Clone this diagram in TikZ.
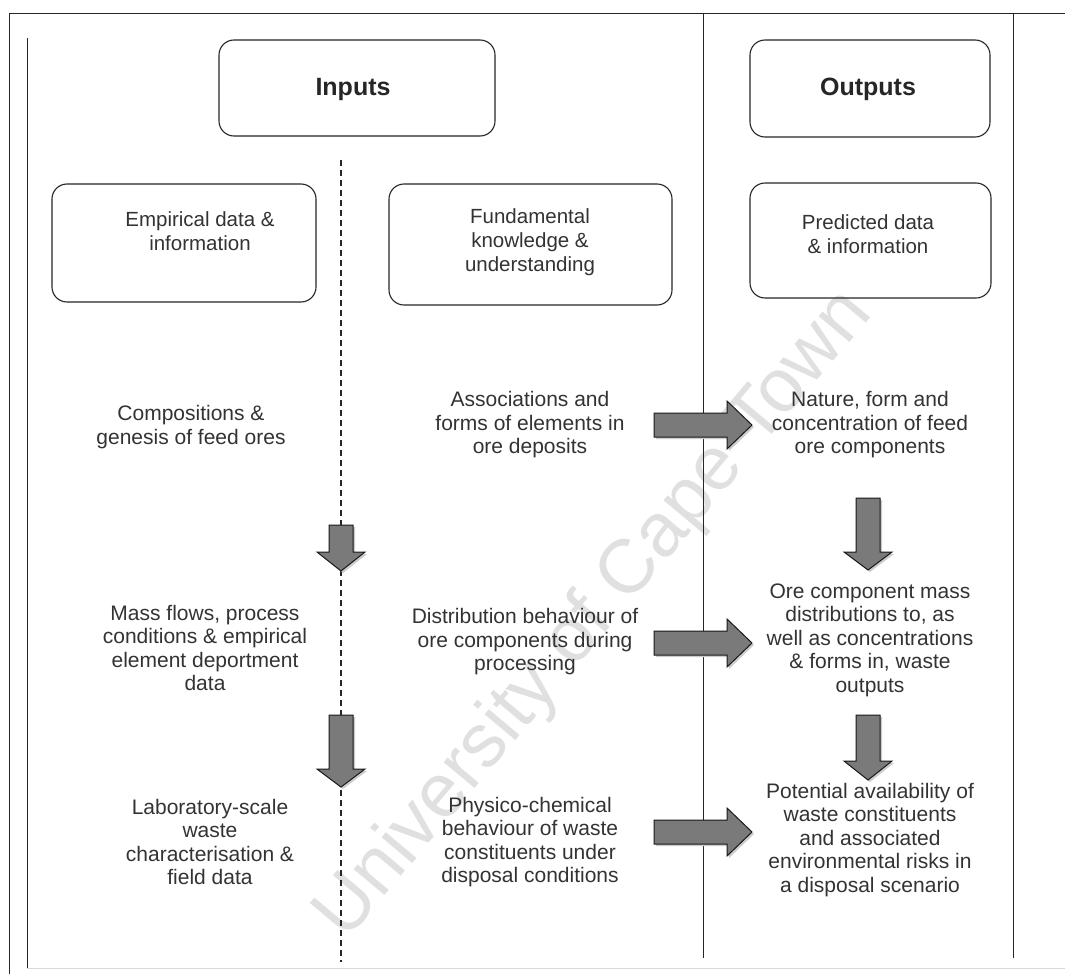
\documentclass[tikz,border=0pt]{standalone}
\usepackage{fontspec}
\setmainfont{Liberation Sans}
\usetikzlibrary{shadows}

\tikzset{
  x=1pt, y=-1pt,
  frameline/.style={line width=1pt, draw=black!85},
  roundbox/.style={draw=black!85, line width=1.1pt, rounded corners=15pt},
  headtext/.style={font=\fontsize{25}{29}\selectfont\bfseries, text=black!85},
  boxtext/.style={font=\fontsize{20.5}{24}\selectfont, align=center, text=black!80},
  bodytext/.style={font=\fontsize{21}{23.5}\selectfont, align=center, text=black!80},
  arrowbody/.style={draw=black!90, line width=1pt, fill=black!52,
    drop shadow={shadow xshift=2pt, shadow yshift=-2pt, fill=black!20, opacity=1}},
  divider/.style={dashed, dash pattern=on 6pt off 4pt, line width=1.3pt, draw=black!85},
  watermark/.style={font=\fontsize{76}{76}\selectfont, text=black!12}
}

% block arrow: #1 tail point, #2 direction angle, #3 total length, #4 head length
\newcommand{\blockarrow}[4]{%
  \begin{scope}[shift={#1}, rotate=#2]
    \draw[arrowbody] (0,-12) -- ({#3-#4},-12) -- ({#3-#4},-24) -- (#3,0)
      -- ({#3-#4},24) -- ({#3-#4},12) -- (0,12) -- cycle;
  \end{scope}}

\begin{document}
\begin{tikzpicture}
\useasboundingbox (0,0) rectangle (1065,974);
\fill[white] (0,0) rectangle (1065,974);

% watermark
\node[watermark, rotate=50] (wm) at (595,615) {University of Cape Town};

% frame and column rules
\coordinate (tl) at (9,14);
\coordinate (tr) at (1065,14);
\draw[frameline] (tr) -- (tl) -- (9,974);
\draw[frameline] (27,38) -- (27,968);
\draw[frameline] (703,14) -- (703,958);
\draw[frameline] (1013,14) -- (1013,958);
\draw[black!15, line width=0.8pt] (27,968) -- (1065,968);

% dashed divider between the two input columns
\coordinate (dtop) at (341,160);
\coordinate (dbot) at (341,962);
\draw[divider] (dtop) -- (dbot);

% heading boxes
\draw[roundbox] (219,40) rectangle (495,136);
\node[headtext] (inputs) at (353,89) {Inputs};
\draw[roundbox] (750,40) rectangle (990,137);
\node[headtext] (outputs) at (868,89) {Outputs};

% category boxes
\draw[roundbox] (52,184) rectangle (316,302);
\node[boxtext] (empirical) at (200,231) {Empirical data \&\\information};
\draw[roundbox] (389,184) rectangle (672,305);
\node[boxtext] (fundamental) at (530,242) {Fundamental\\knowledge \&\\understanding};
\draw[roundbox] (750,183) rectangle (991,298);
\node[boxtext] (predicted) at (868,234) {Predicted data\\\& information};

% first row
\node[bodytext] (comp) at (191,427) {Compositions \&\\genesis of feed ores};
\node[bodytext] (assoc) at (530,425) {Associations and\\forms of elements in\\ore deposits};
\node[bodytext] (nature) at (870,425) {Nature, form and\\concentration of feed\\ore components};

% second row
\node[bodytext] (mass) at (205,648) {Mass flows, process\\conditions \& empirical\\element deportment\\data};
\node[bodytext] (distr) at (525,642) {Distribution behaviour of\\ore components during\\processing};
\node[bodytext] (oremass) at (870,640) {Ore component mass\\distributions to, as\\well as concentrations\\\& forms in, waste\\outputs};

% third row
\node[bodytext] (lab) at (210,842) {Laboratory-scale\\waste\\characterisation \&\\field data};
\node[bodytext] (phys) at (530,842) {Physico-chemical\\behaviour of waste\\constituents under\\disposal conditions};
\node[bodytext] (potential) at (870,840) {Potential availability of\\waste constituents\\and associated\\environmental risks in\\a disposal scenario};

% arrows from fundamental knowledge to predictions
\blockarrow{(654,425)}{0}{98}{25}
\blockarrow{(654,643)}{0}{98}{25}
\blockarrow{(654,832)}{0}{98}{25}

% downward arrows in the empirical column
\blockarrow{(341,525)}{-90}{46}{19}
\blockarrow{(341,715)}{-90}{72}{18}

% downward arrows in the output column
\blockarrow{(868,498)}{-90}{72}{18}
\blockarrow{(868,715)}{-90}{65}{19}
\end{tikzpicture}
\end{document}
